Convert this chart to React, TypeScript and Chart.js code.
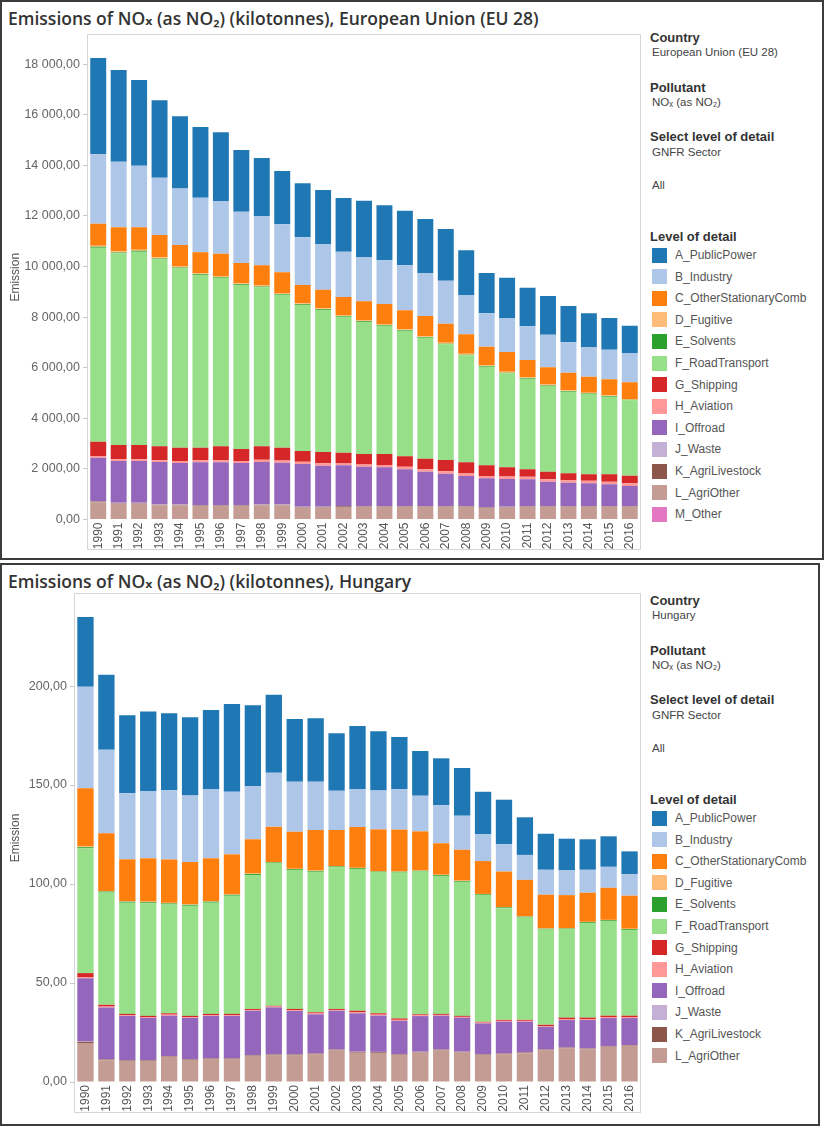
import React, { useEffect, useRef } from 'react';
import { Chart, registerables } from 'chart.js';

Chart.register(...registerables);

// ---------- data ----------
const YEARS = ['1990', '1991', '1992', '1993', '1994', '1995', '1996', '1997', '1998', '1999', '2000', '2001', '2002', '2003', '2004', '2005', '2006', '2007', '2008', '2009', '2010', '2011', '2012', '2013', '2014', '2015', '2016'];

const SECTORS = ['A_PublicPower', 'B_Industry', 'C_OtherStationaryComb', 'D_Fugitive', 'E_Solvents', 'F_RoadTransport', 'G_Shipping', 'H_Aviation', 'I_Offroad', 'J_Waste', 'K_AgriLivestock', 'L_AgriOther', 'M_Other'];
const SECTOR_COLORS = ['#1f77b4', '#aec7e8', '#ff7f0e', '#ffbb78', '#2ca02c', '#98df8a', '#d62728', '#ff9896', '#9467bd', '#c5b0d5', '#8c564b', '#c49c94', '#e377c2'];

const EU_TICKS = [0, 2000, 4000, 6000, 8000, 10000, 12000, 14000, 16000, 18000];
const HU_TICKS = [0, 50, 100, 150, 200];

// European Union (EU 28), kilotonnes
const EU_A = [3807, 3625, 3388, 3060, 2862, 2795, 2716, 2439, 2293, 2107, 2135, 2135, 2123, 2226, 2174, 2158, 2135, 2044, 1767, 1593, 1593, 1526, 1530, 1435, 1332, 1253, 1079];
const EU_B = [2743, 2593, 2435, 2265, 2226, 2158, 2083, 2028, 1949, 1897, 1886, 1807, 1791, 1751, 1727, 1779, 1700, 1700, 1554, 1320, 1344, 1332, 1289, 1202, 1174, 1170, 1158];
const EU_C = [869, 949, 888, 886, 848, 825, 878, 801, 801, 818, 726, 738, 716, 756, 797, 746, 798, 756, 773, 736, 787, 685, 686, 699, 632, 636, 660];
const EU_D = [45, 45, 44, 43, 42, 42, 41, 40, 40, 39, 38, 37, 37, 36, 36, 35, 35, 34, 33, 32, 32, 31, 31, 30, 30, 30, 30];
const EU_E = [35, 34, 33, 32, 31, 30, 30, 29, 29, 28, 27, 27, 26, 26, 25, 25, 25, 24, 24, 23, 23, 23, 22, 22, 22, 22, 22];
const EU_F = [7669, 7578, 7641, 7392, 7092, 6827, 6665, 6483, 6285, 6048, 5771, 5613, 5376, 5218, 5072, 4965, 4783, 4574, 4230, 3898, 3716, 3581, 3388, 3226, 3174, 3068, 2981];
const EU_G = [562, 562, 560, 548, 530, 500, 552, 470, 535, 504, 422, 450, 408, 412, 433, 418, 415, 441, 442, 419, 368, 299, 299, 276, 258, 295, 304];
const EU_H = [70, 70, 72, 73, 75, 77, 80, 83, 86, 89, 92, 92, 90, 90, 93, 96, 99, 101, 100, 95, 95, 96, 96, 96, 98, 100, 103];
const EU_I = [1712, 1648, 1648, 1672, 1633, 1688, 1688, 1660, 1672, 1644, 1688, 1621, 1609, 1554, 1530, 1451, 1356, 1277, 1186, 1146, 1095, 1055, 961, 921, 897, 858, 791];
const EU_J = [20, 20, 19, 19, 18, 18, 17, 17, 16, 16, 15, 15, 15, 14, 14, 14, 13, 13, 13, 12, 12, 12, 12, 12, 11, 11, 11];
const EU_K = [25, 24, 24, 23, 23, 22, 22, 22, 22, 21, 21, 21, 21, 20, 20, 20, 20, 20, 20, 19, 19, 19, 19, 19, 19, 19, 19];
const EU_L = [686, 620, 621, 559, 560, 533, 534, 534, 563, 564, 470, 470, 498, 500, 500, 500, 501, 501, 501, 451, 475, 503, 503, 503, 504, 504, 504];
const EU_M = [0, 0, 0, 0, 0, 0, 0, 0, 0, 0, 0, 0, 0, 0, 0, 0, 0, 0, 0, 0, 0, 0, 0, 0, 0, 0, 0];

// Hungary, kilotonnes
const HU_A = [35.2, 37.9, 39.5, 40.1, 38.9, 39.6, 39.9, 44.3, 40.8, 39.4, 31.7, 32.0, 29.0, 31.8, 29.9, 26.4, 22.6, 23.7, 24.1, 21.5, 22.5, 19.0, 18.2, 16.0, 15.4, 15.4, 11.6];
const HU_B = [51.3, 42.1, 33.3, 34.0, 35.0, 33.6, 35.0, 31.6, 26.9, 27.3, 25.3, 24.4, 19.8, 19.2, 19.7, 20.4, 18.0, 19.2, 17.2, 13.5, 13.8, 12.6, 12.6, 12.5, 11.6, 10.6, 10.8];
const HU_C = [29.5, 29.2, 21.1, 21.9, 21.9, 21.3, 21.6, 20.1, 17.3, 17.8, 18.7, 20.5, 18.2, 20.6, 21.1, 21.1, 19.7, 15.9, 15.6, 16.6, 17.9, 18.4, 17.0, 16.7, 14.7, 16.2, 16.7];
const HU_D = [0.3, 0.3, 0.3, 0.3, 0.3, 0.3, 0.3, 0.3, 0.2, 0.2, 0.2, 0.2, 0.2, 0.2, 0.2, 0.2, 0.2, 0.2, 0.2, 0.2, 0.2, 0.2, 0.2, 0.2, 0.2, 0.2, 0.2];
const HU_E = [0.5, 0.5, 0.5, 0.5, 0.5, 0.5, 0.5, 0.5, 0.5, 0.5, 0.4, 0.4, 0.4, 0.4, 0.4, 0.4, 0.4, 0.4, 0.4, 0.4, 0.4, 0.4, 0.4, 0.4, 0.4, 0.4, 0.4];
const HU_F = [63.1, 56.7, 56.2, 56.9, 55.0, 55.6, 56.2, 59.7, 67.7, 71.9, 70.2, 71.0, 71.6, 71.6, 71.2, 73.7, 72.1, 69.7, 67.7, 64.0, 56.4, 51.7, 48.1, 44.6, 47.8, 47.8, 43.3];
const HU_G = [2.0, 0.9, 0.6, 0.6, 0.7, 0.6, 0.6, 0.6, 0.5, 0.4, 0.6, 0.6, 0.5, 0.8, 0.7, 0.7, 0.5, 0.5, 0.5, 0.4, 0.5, 0.5, 0.6, 0.7, 0.7, 0.7, 0.7];
const HU_H = [0.6, 0.5, 0.4, 0.4, 0.5, 0.4, 0.4, 0.4, 0.4, 0.4, 0.4, 0.4, 0.4, 0.5, 0.5, 0.5, 0.4, 0.4, 0.4, 0.4, 0.4, 0.4, 0.4, 0.5, 0.5, 0.5, 0.5];
const HU_I = [32.0, 26.1, 22.4, 21.4, 20.4, 20.9, 21.4, 21.4, 22.4, 23.7, 21.9, 19.7, 19.5, 19.4, 18.3, 16.8, 18.0, 17.0, 17.2, 15.5, 16.0, 15.5, 11.4, 13.8, 14.3, 14.1, 13.6];
const HU_J = [0.1, 0.1, 0.1, 0.1, 0.1, 0.1, 0.1, 0.1, 0.1, 0.1, 0.1, 0.1, 0.1, 0.1, 0.1, 0.1, 0.1, 0.1, 0.1, 0.1, 0.1, 0.1, 0.1, 0.1, 0.1, 0.1, 0.1];
const HU_K = [0.6, 0.4, 0.3, 0.3, 0.3, 0.3, 0.3, 0.3, 0.3, 0.3, 0.3, 0.3, 0.3, 0.4, 0.4, 0.3, 0.3, 0.3, 0.3, 0.3, 0.3, 0.4, 0.3, 0.3, 0.3, 0.3, 0.3];
const HU_L = [19.7, 11.0, 10.6, 10.6, 12.7, 11.1, 11.6, 11.6, 13.2, 13.6, 13.6, 14.1, 16.1, 14.8, 14.7, 13.7, 14.9, 16.1, 14.9, 13.7, 14.1, 14.5, 16.1, 17.1, 16.6, 17.8, 18.3];

const EU_SERIES = [EU_A, EU_B, EU_C, EU_D, EU_E, EU_F, EU_G, EU_H, EU_I, EU_J, EU_K, EU_L, EU_M];
const HU_SERIES = [HU_A, HU_B, HU_C, HU_D, HU_E, HU_F, HU_G, HU_H, HU_I, HU_J, HU_K, HU_L];

// ---------- helpers ----------
const FONT = '"Liberation Sans", Arial, sans-serif';

function fmt(v: number): string {
  const [i, d] = Math.abs(v).toFixed(2).split('.');
  const g = i.replace(/\B(?=(\d{3})+(?!\d))/g, ' ');
  return g + ',' + d;
}

const framePlugin = {
  id: 'frame',
  beforeDraw(chart: any) {
    const { ctx, chartArea } = chart;
    const xs = chart.scales.x;
    ctx.save();
    ctx.strokeStyle = '#d6d6d6';
    ctx.lineWidth = 1;
    ctx.strokeRect(
      Math.round(chartArea.left) - 0.5,
      Math.round(chartArea.top) - 0.5,
      Math.round(chartArea.right - chartArea.left) + 1,
      Math.round(xs.bottom - chartArea.top) - 1
    );
    ctx.restore();
  },
};

type PanelProps = {
  top: number;
  height: number;
  width: number;
  title: string;
  country: string;
  series: number[][];
  ticks: number[];
  yMax: number;
  canvasTop: number;
  canvasHeight: number;
  plotTop: number;
  plotBottom: number;
  yWidth: number;
};

function Panel(p: PanelProps) {
  const ref = useRef<HTMLCanvasElement | null>(null);

  useEffect(() => {
    if (!ref.current) return;
    const canvasW = 645;
    const plotRight = 640;
    const padTop = p.plotTop - p.canvasTop;
    const xHeight = p.canvasHeight - (p.plotBottom - p.canvasTop);
    const datasets = p.series
      .map((vals, i) => ({
        label: SECTORS[i],
        data: vals,
        backgroundColor: SECTOR_COLORS[i],
        borderWidth: 0,
        barPercentage: 0.78,
        categoryPercentage: 1,
      }))
      .reverse();
    const chart = new Chart(ref.current, {
      type: 'bar',
      data: { labels: YEARS, datasets },
      plugins: [framePlugin],
      options: {
        animation: false,
        responsive: false,
        maintainAspectRatio: false,
        layout: { padding: { top: padTop, right: canvasW - plotRight, left: 0, bottom: 0 } },
        plugins: { legend: { display: false }, tooltip: { enabled: false } },
        scales: {
          x: {
            stacked: true,
            grid: { display: false, drawTicks: false, tickLength: 0 },
            border: { display: false },
            ticks: {
              autoSkip: false,
              maxRotation: 90,
              minRotation: 90,
              padding: 3,
              color: '#555',
              font: { family: FONT, size: 12 },
            },
            afterFit: (s: any) => {
              s.height = xHeight;
              s.paddingLeft = 0;
              s.paddingRight = 0;
            },
          },
          y: {
            stacked: true,
            min: 0,
            max: p.yMax,
            border: { display: false },
            grid: { drawOnChartArea: false, drawTicks: true, tickLength: 5, color: '#c8c8c8' },
            ticks: {
              padding: 3,
              color: '#666',
              font: { family: FONT, size: 12.5 },
              callback: (v: any) => fmt(Number(v)),
            },
            title: {
              display: true,
              text: 'Emission',
              color: '#555',
              font: { family: FONT, size: 12 },
              padding: { top: 8, bottom: 0 },
            },
            afterBuildTicks: (s: any) => {
              s.ticks = p.ticks.map((v) => ({ value: v }));
            },
            afterFit: (s: any) => {
              s.width = p.yWidth;
              s.paddingTop = 0;
              s.paddingBottom = 0;
            },
          },
        },
      } as any,
    });
    return () => chart.destroy();
  }, []);

  const headings = [
    { y: 38, text: 'Country', bold: true },
    { y: 52, text: p.country, bold: false },
    { y: 88, text: 'Pollutant', bold: true },
    { y: 102, text: 'NOₓ (as NO₂)', bold: false },
    { y: 137, text: 'Select level of detail', bold: true },
    { y: 152, text: 'GNFR Sector', bold: false },
    { y: 185, text: 'All', bold: false },
    { y: 237, text: 'Level of detail', bold: true },
  ];

  return (
    <>
      <div
        style={{
          position: 'absolute',
          left: 0,
          top: p.top,
          width: p.width,
          height: p.height,
          border: '2px solid #3c3c3c',
          boxSizing: 'border-box',
        }}
      />
      <div
        style={{
          position: 'absolute',
          left: 8,
          top: p.top + 7,
          height: 22,
          lineHeight: '22px',
          fontFamily: '"Open Sans", "DejaVu Sans", sans-serif',
          fontWeight: 600,
          fontSize: 17.5,
          color: '#333',
          whiteSpace: 'nowrap',
        }}
      >
        {p.title}
      </div>
      <canvas
        ref={ref}
        width={645}
        height={p.canvasHeight}
        style={{ position: 'absolute', left: 0, top: p.canvasTop, width: 645, height: p.canvasHeight }}
      />
      {headings.map((h, i) => (
        <div
          key={'h' + i}
          style={{
            position: 'absolute',
            left: h.bold ? 650 : 652,
            top: p.top + h.y - 8,
            height: 16,
            lineHeight: '16px',
            fontFamily: FONT,
            fontSize: h.bold ? 13 : 11.5,
            fontWeight: h.bold ? 700 : 400,
            color: h.bold ? '#333' : '#444',
            whiteSpace: 'nowrap',
          }}
        >
          {h.text}
        </div>
      ))}
      {p.series.map((_, i) => (
        <div
          key={'l' + i}
          style={{
            position: 'absolute',
            left: 652,
            top: p.top + 255 + i * 21.6 - 8,
            height: 16,
            display: 'flex',
            alignItems: 'center',
            whiteSpace: 'nowrap',
          }}
        >
          <div style={{ width: 15, height: 15, background: SECTOR_COLORS[i] }} />
          <div
            style={{
              marginLeft: 8,
              fontFamily: FONT,
              fontSize: 12,
              color: '#555',
              lineHeight: '16px',
            }}
          >
            {SECTORS[i]}
          </div>
        </div>
      ))}
    </>
  );
}

export default function App() {
  return (
    <div style={{ position: 'relative', width: 824, height: 1126, background: '#fff', overflow: 'hidden' }}>
      <style>{'body{margin:0;background:#fff;}'}</style>
      <Panel
        top={0}
        height={560}
        width={824}
        title="Emissions of NOₓ (as NO₂) (kilotonnes), European Union (EU 28)"
        country="European Union (EU 28)"
        series={EU_SERIES}
        ticks={EU_TICKS}
        yMax={19150}
        canvasTop={28}
        canvasHeight={523}
        plotTop={35}
        plotBottom={519.5}
        yWidth={88}
      />
      <Panel
        top={563}
        height={563}
        width={820}
        title="Emissions of NOₓ (as NO₂) (kilotonnes), Hungary"
        country="Hungary"
        series={HU_SERIES}
        ticks={HU_TICKS}
        yMax={246.5}
        canvasTop={588}
        canvasHeight={526}
        plotTop={594}
        plotBottom={1082}
        yWidth={75}
      />
    </div>
  );
}
